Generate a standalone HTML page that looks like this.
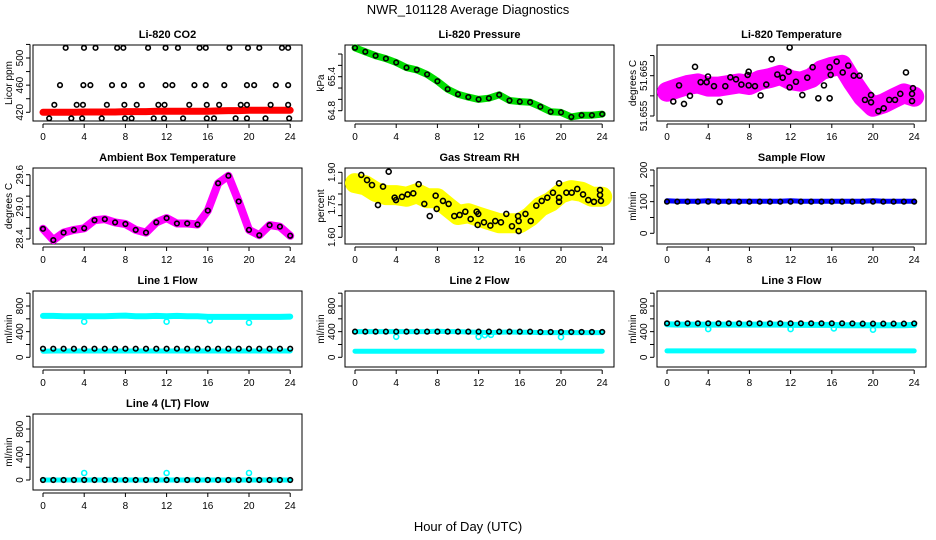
<!DOCTYPE html>
<html><head><meta charset="utf-8"><style>
html,body{margin:0;padding:0;background:#fff;}
svg{display:block;font-family:"Liberation Sans",sans-serif;}
</style></head><body>
<svg id="chart" width="936" height="540" viewBox="0 0 936 540">
<text x="468" y="14" text-anchor="middle" font-size="13">NWR_101128  Average Diagnostics</text>
<text x="468" y="531" text-anchor="middle" font-size="13">Hour of Day (UTC)</text>
</svg>
<script>
const hours = [0,1,2,3,4,5,6,7,8,9,10,11,12,13,14,15,16,17,18,19,20,21,22,23,24];
const xTicks = [0,4,8,12,16,20,24];

const co2Red = [420,420,420,420,420.5,420.5,420.5,420.5,421,421,421,421.5,421.5,421.5,421.5,421.5,421.5,422,422.5,422.5,423,423,423,423,423];
const co2BlackH = [2.2,3.98,5.1,7.2,7.8,10.2,11.9,13.1,15.2,15.8,18.1,19.9,21.0,23.2,23.8,1.65,3.92,4.6,6.7,7.86,9.6,11.9,12.56,14.7,15.8,17.6,19.8,20.5,22.6,23.8,1.1,3.27,3.88,6.2,7.9,9.1,11.2,11.8,14.2,15.9,17.1,19.2,19.8,22.1,23.8,0.6,2.75,3.8,5.7,7.96,8.6,10.75,11.75,13.6,15.9,16.6,18.7,19.8,21.6,23.9];
const co2BlackV = [515,515,515,515,515,515,515,515,515,515,515,515,515,515,515,460,460,460,460,460,460,460,460,460,460,460,460,460,460,460,431,431,431,431,431,431,431,431,431,431,431,431,431,431,431,411,411,411,411,411,411,411,411,411,411,411,411,411,411,411];

const pressure = [65.91,65.84,65.77,65.72,65.65,65.56,65.52,65.44,65.32,65.18,65.09,65.04,65.0,65.02,65.08,64.98,64.96,64.95,64.87,64.78,64.77,64.69,64.72,64.72,64.74];

const tempMag = [51.6610,51.6619,51.6627,51.6631,51.6623,51.6623,51.6627,51.6631,51.6627,51.6639,51.6644,51.6652,51.6639,51.6635,51.6644,51.6664,51.6672,51.6677,51.6635,51.6598,51.6573,51.6581,51.6594,51.6606,51.6598];
const tempBlackH = [0.61,1.17,1.65,2.23,2.72,3.27,3.85,3.98,4.56,5.11,5.66,6.15,6.70,7.22,7.83,7.93,7.93,8.54,9.09,9.64,10.16,10.71,11.23,11.81,11.91,11.91,12.52,13.14,13.62,14.14,14.69,15.24,15.79,15.79,15.89,16.47,17.06,17.6,18.13,18.7,19.22,19.81,19.81,20.52,21.04,21.58,22.14,22.65,23.2,23.79,23.79,23.88];
const tempBlackV = [51.6586,51.6626,51.6580,51.6600,51.6672,51.6634,51.6634,51.6648,51.6624,51.6585,51.6624,51.6646,51.6641,51.6628,51.6652,51.6660,51.6626,51.6624,51.6601,51.6628,51.6691,51.6653,51.6645,51.6660,51.6621,51.6720,51.6635,51.6602,51.6645,51.6671,51.6594,51.6626,51.6594,51.6671,51.6652,51.6685,51.6658,51.6675,51.6650,51.6650,51.6590,51.6602,51.6584,51.6562,51.6569,51.6590,51.6590,51.6605,51.6658,51.6605,51.6587,51.6619];

const ambient = [28.59,28.38,28.52,28.57,28.60,28.75,28.77,28.71,28.68,28.57,28.52,28.71,28.79,28.69,28.69,28.67,28.93,29.44,29.58,29.10,28.57,28.47,28.66,28.63,28.46];

const rhYellow = [1.85,1.84,1.81,1.795,1.795,1.787,1.803,1.78,1.78,1.741,1.703,1.711,1.695,1.68,1.665,1.665,1.665,1.695,1.741,1.764,1.803,1.818,1.81,1.787,1.787];
const rhBlackH = [0.61,1.17,1.65,2.23,2.72,3.27,3.85,3.98,4.56,5.11,5.66,6.18,6.73,7.26,7.83,7.93,8.54,9.09,9.64,10.16,10.71,11.23,11.81,11.91,11.97,12.52,13.14,13.62,14.17,14.69,15.24,15.83,15.89,15.89,16.55,17.06,17.6,18.13,18.67,19.22,19.81,19.81,19.81,20.52,21.04,21.58,22.14,22.65,23.2,23.79,23.79,23.88];
const rhBlackV = [1.888,1.864,1.841,1.749,1.834,1.903,1.783,1.772,1.787,1.798,1.803,1.845,1.754,1.698,1.792,1.731,1.768,1.754,1.698,1.703,1.718,1.684,1.718,1.657,1.708,1.669,1.654,1.675,1.669,1.708,1.651,1.698,1.629,1.675,1.708,1.675,1.746,1.768,1.783,1.806,1.849,1.783,1.764,1.806,1.806,1.823,1.798,1.772,1.764,1.818,1.795,1.768];

const sampleBlue = [103,101,101,101,103,101,101,101,101,101,101,101,103,101,101,101,101,101,101,101,103,101,101,101,101];
const sampleBlack = [100,100,100,100,100,100,100,100,100,100,100,100,100,100,100,100,100,100,100,100,100,100,100,100,100];

const line1CyanHigh = [645,645,640,640,640,640,640,645,650,640,640,645,640,645,640,640,630,630,630,630,630,630,630,630,635];
const line1CyanLow = [95,98,98,98,98,98,98,98,98,98,98,98,98,98,98,98,98,98,98,98,98,98,98,98,98];
const line1Black = [134,134,134,134,134,134,134,134,134,134,134,134,134,134,134,134,134,134,134,134,134,134,134,134,134];
const line1OutH = [4,12,16.2,20];
const line1OutV = [555,555,575,540];

const line2CyanHigh = [400,400,400,400,400,400,400,400,405,400,400,395,390,385,390,395,390,390,385,385,385,385,385,385,385];
const line2CyanLow = [95,95,95,95,95,95,95,95,95,95,95,95,95,95,95,95,95,95,95,95,95,95,95,95,95];
const line2Black = [400,400,400,400,400,400,400,400,400,400,400,400,400,400,400,400,400,400,395,395,395,395,395,395,395];
const line2OutH = [4,12,12.6,13.2,20];
const line2OutV = [320,320,345,350,315];

const line3CyanHigh = [515,510,510,510,510,510,510,510,510,510,510,510,505,505,505,505,505,500,500,500,500,500,500,500,505];
const line3CyanLow = [100,100,100,100,100,100,100,100,100,100,100,100,100,100,100,100,100,100,100,100,100,100,100,100,100];
const line3Black = [530,530,530,530,530,530,530,530,530,530,530,530,530,530,530,530,530,530,528,525,525,525,525,525,528];
const line3OutH = [4,12,16.2,20];
const line3OutV = [440,440,450,430];

const line4Cyan = [0,0,0,0,0,0,0,0,0,0,0,0,0,0,0,0,0,0,0,0,0,0,0,0,0];
const line4CyanOutH = [4,12,20];
const line4CyanOutV = [110,110,110];
const line4Black = [0,0,0,0,0,0,0,0,0,0,0,0,0,0,0,0,0,0,0,0,0,0,0,0,0];

const NS = "http://www.w3.org/2000/svg";
const svg = document.getElementById("chart");
function mk(tag, attrs, parent){
  const e = document.createElementNS(NS, tag);
  for (const k in attrs) e.setAttribute(k, attrs[k]);
  (parent || svg).appendChild(e);
  return e;
}

function panel(col, row, title, ylab, v0, p0, v1, p1, tickVals, labVals, dec){
  const g = mk("g", {});
  
  
  const left = col*312 + 33, right = col*312 + 302;
  const tops = [45,168,291,414];
  const top = tops[row], bottom = top + 76;
  const xs = h => col*312 + 43 + h*10.3;
  const ys = v => p0 + (v - v0)*(p1 - p0)/(v1 - v0);
  const box = mk("rect", {x:left, y:top, width:right-left, height:bottom-top, fill:"none", stroke:"#000", "stroke-width":1}, g);
  
  
  const t = mk("text", {x:(left+right)/2, y:top-7, "text-anchor":"middle", "font-size":11, "font-weight":"bold"}, g);
  t.textContent = title;
  
  
  const yl = mk("text", {transform:`translate(${col*312+12},${(top+bottom)/2}) rotate(-90)`, "text-anchor":"middle", "font-size":10}, g);
  yl.textContent = ylab;
  
  
  const xa = mk("g", {}, g);
  
  
  mk("line", {x1:xs(0), x2:xs(24), y1:bottom+3, y2:bottom+3, stroke:"#000"}, xa);
  xTicks.forEach(v => {
    mk("line", {x1:xs(v), x2:xs(v), y1:bottom+3, y2:bottom+7, stroke:"#000"}, xa);
    const tl = mk("text", {x:xs(v), y:bottom+19, "text-anchor":"middle", "font-size":10}, xa);
    tl.textContent = v;
    
    
  });
  const ya = mk("g", {}, g);
  
  
  const ax = left - 3;
  mk("line", {x1:ax, x2:ax, y1:ys(tickVals[0]), y2:ys(tickVals[tickVals.length-1]), stroke:"#000"}, ya);
  tickVals.forEach(v => mk("line", {x1:ax, x2:ax-4, y1:ys(v), y2:ys(v), stroke:"#000"}, ya));
  labVals.forEach(v => {
    const tl = mk("text", {transform:`translate(${ax-7},${ys(v)}) rotate(-90)`, "text-anchor":"middle", "font-size":10}, ya);
    tl.textContent = v.toFixed(dec);
    
    
  });
  const dg = mk("g", {}, g);
  
  
  return {xs, ys, dg};
}

function band(P, hs, vals, color, w, name){
  const pts = hs.map((h,i) => P.xs(h).toFixed(1) + "," + P.ys(vals[i]).toFixed(1)).join(" ");
  const l = mk("polyline", {points:pts, fill:"none", stroke:color, "stroke-width":w, "stroke-linejoin":"round", "stroke-linecap":"round"}, P.dg);
  
  
}
function pts(P, hs, vals, color, r, name){
  hs.forEach((h,i) => {
    const c = mk("circle", {cx:P.xs(h), cy:P.ys(vals[i]), r:r, fill:"none", stroke:color, "stroke-width":1.6}, P.dg);
    
    
  });
}
function range(a,b,s){const r=[];for(let v=a;v<=b+1e-9;v+=s)r.push(+v.toFixed(6));return r;}

let P = panel(0,0,"Li-820 CO2","Licor ppm",420,112.3,500,58,range(420,520,20),[420,460,500],0);
band(P, hours, co2Red, "#ff0000", 7, "co2-series-red");
pts(P, co2BlackH, co2BlackV, "#000", 2.3, "co2-point");

P = panel(1,0,"Li-820 Pressure","kPa",64.8,110.7,65.4,76.7,range(64.8,65.8,0.2),[64.8,65.4],1);
band(P, hours, pressure, "#00dd00", 7, "pressure-series-green");
pts(P, hours, pressure, "#000", 2.3, "pressure-point");

P = panel(2,0,"Li-820 Temperature","degrees C",51.655,116,51.665,75.7,range(51.655,51.67,0.005),[51.655,51.665],3);
band(P, hours, tempMag, "#ff00ff", 20, "temperature-series-magenta");
pts(P, tempBlackH, tempBlackV, "#000", 2.5, "temperature-point");

P = panel(0,1,"Ambient Box Temperature","degrees C",28.4,239,29.6,174.7,range(28.4,29.6,0.2),[28.4,29.0,29.6],1);
band(P, hours, ambient, "#ff00ff", 8, "ambient-series-magenta");
pts(P, hours, ambient, "#000", 2.3, "ambient-point");

P = panel(1,1,"Gas Stream RH","percent",1.60,237.3,1.90,172.3,range(1.60,1.90,0.05),[1.60,1.75,1.90],2);
band(P, hours, rhYellow, "#ffff00", 20, "rh-series-yellow");
pts(P, rhBlackH, rhBlackV, "#000", 2.5, "rh-point");

P = panel(2,1,"Sample Flow","ml/min",0,233.3,200,170,range(0,200,50),[0,100,200],0);
band(P, hours, sampleBlue, "#0000ff", 5, "sample-flow-series-blue");
pts(P, hours, sampleBlack, "#000", 2.3, "sample-flow-point");

const fT = range(0,1000,200), fL = [0,400,800];
P = panel(0,2,"Line 1 Flow","ml/min",0,357.3,800,306,fT,fL,0);
band(P, hours, line1CyanHigh, "#00ffff", 6, "line1-series-cyan-high");
band(P, hours, line1CyanLow, "#00ffff", 5, "line1-series-cyan-low");
pts(P, line1OutH, line1OutV, "#00ffff", 2.5, "line1-cyan-outlier");
pts(P, hours, line1Black, "#000", 2.3, "line1-point");

P = panel(1,2,"Line 2 Flow","ml/min",0,357.3,800,306,fT,fL,0);
band(P, hours, line2CyanHigh, "#00ffff", 5, "line2-series-cyan-high");
band(P, hours, line2CyanLow, "#00ffff", 5, "line2-series-cyan-low");
pts(P, line2OutH, line2OutV, "#00ffff", 2.5, "line2-cyan-outlier");
pts(P, hours, line2Black, "#000", 2.3, "line2-point");

P = panel(2,2,"Line 3 Flow","ml/min",0,357.3,800,306,fT,fL,0);
band(P, hours, line3CyanHigh, "#00ffff", 6, "line3-series-cyan-high");
band(P, hours, line3CyanLow, "#00ffff", 5, "line3-series-cyan-low");
pts(P, line3OutH, line3OutV, "#00ffff", 2.5, "line3-cyan-outlier");
pts(P, hours, line3Black, "#000", 2.3, "line3-point");

P = panel(0,3,"Line 4 (LT) Flow","ml/min",0,480,800,429,fT,fL,0);
band(P, hours, line4Cyan, "#00ffff", 5, "line4-series-cyan");
pts(P, line4CyanOutH, line4CyanOutV, "#00ffff", 2.5, "line4-cyan-outlier");
pts(P, hours, line4Black, "#000", 2.3, "line4-point");
</script>
</body></html>
